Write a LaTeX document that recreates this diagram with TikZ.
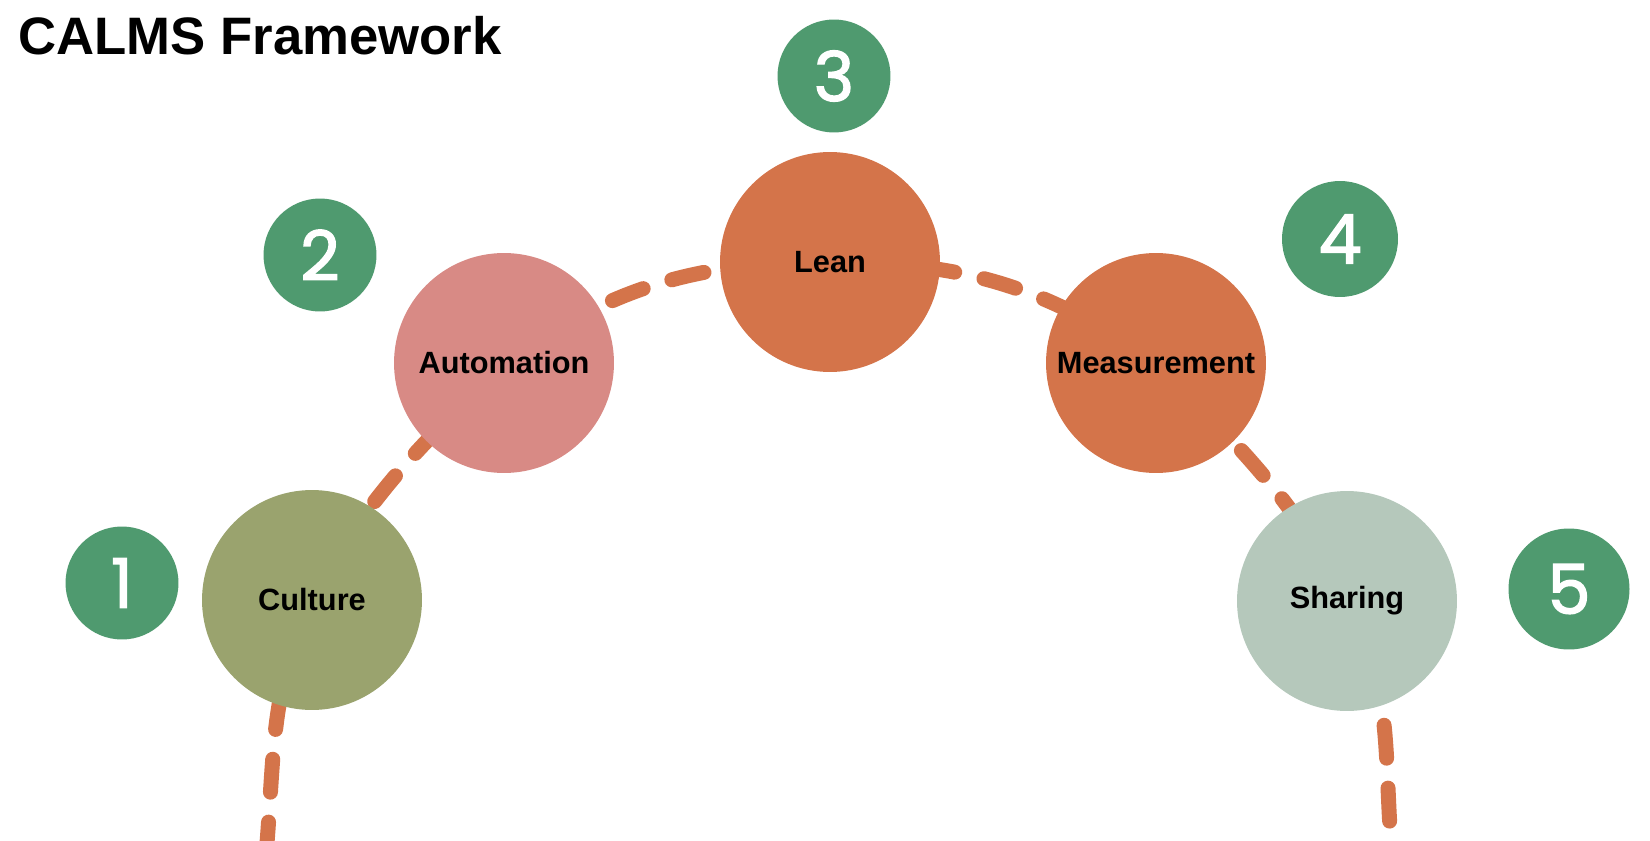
\documentclass[tikz,border=0pt]{standalone}
\usepackage{fontspec}
\setmainfont{Liberation Sans}
\newfontfamily\numfont{Poppins}[FakeBold=2]
\usetikzlibrary{backgrounds}
\definecolor{badgegreen}{RGB}{79,154,111}
\definecolor{culturecol}{RGB}{154,163,110}
\definecolor{automcol}{RGB}{216,138,133}
\definecolor{orangecol}{RGB}{212,116,74}
\definecolor{sharecol}{RGB}{181,200,187}
\tikzset{
  pillar/.style={circle, minimum size=4.4cm, inner sep=0pt,
    font=\fontsize{17.5}{20}\selectfont\bfseries},
  badge/.style={circle, fill=badgegreen, minimum size=2.26cm, inner sep=0pt,
    text=white, font=\fontsize{39}{40}\numfont},
  dashline/.style={draw=orangecol, line width=0.3cm, line cap=round,
    dash pattern=on 0.66cm off 0.6cm}
}
\begin{document}
\begin{tikzpicture}[x=0.02cm, y=0.02cm]
    \useasboundingbox (0,0) rectangle (1650,840);
    \node[anchor=base west, inner sep=0pt, font=\fontsize{30}{34}\selectfont\bfseries] (title) at (18,785) {CALMS Framework};
    % the five pillars
    \node[pillar, fill=culturecol] (cul) at (312,240) {Culture};
    \node[pillar, fill=automcol] (aut) at (504,477) {Automation};
    \node[pillar, fill=orangecol] (lean) at (830,578) {Lean};
    \node[pillar, fill=orangecol] (mea) at (1156,477) {Measurement};
    \node[pillar, fill=sharecol] (sha) at (1347,239) {Sharing};
    % numbers
    \node[badge] (n1) at (122,257) {1};
    \node[badge] (n2) at (320,585) {2};
    \node[badge] (n3) at (834,764) {3};
    \node[badge, minimum size=2.32cm] (n4) at (1340,601) {4};
    \node[badge, minimum size=2.42cm] (n5) at (1569,251) {5};
    \coordinate (bl) at (266,-15);
    \coordinate (br) at (1392,-15);
    \begin{scope}[on background layer]
    \fill[white] (0,0) rectangle (1650,840);
    \clip (0,0) rectangle (1650,840);
    \draw[dashline] (bl) to[out=85,in=-115] (cul.center)
        to[out=62,in=-135] (aut.center)
        to[out=35,in=180] (lean.center)
        to[out=0,in=145] (mea.center)
        to[out=-45,in=118] (sha.center)
        to[out=-62,in=95] (br);
    \end{scope}
\end{tikzpicture}
\end{document}
